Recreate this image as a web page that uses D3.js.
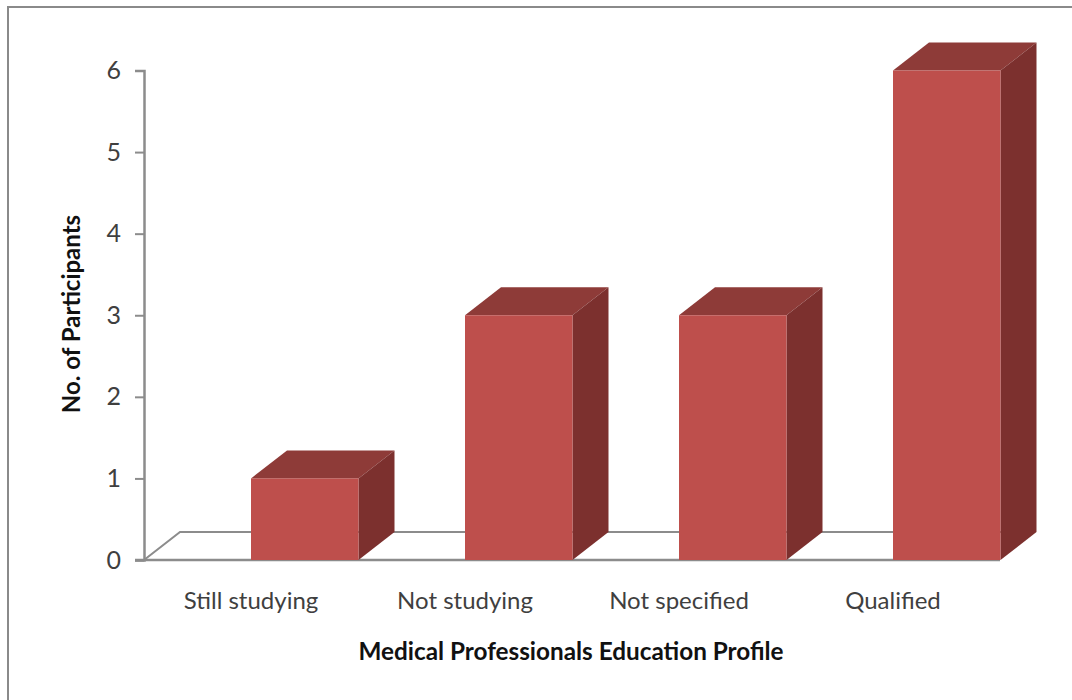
<!DOCTYPE html>
<html>
<head>
<meta charset="utf-8">
<script src="https://cdn.jsdelivr.net/npm/d3@7"></script>
<style>
  html, body { margin: 0; padding: 0; background: #fff; }
  svg { display: block; }
  text { font-family: Lato, "Open Sans", sans-serif; }
</style>
</head>
<body>
<script>
const categories = ["Still studying", "Not studying", "Not specified", "Qualified"];
const participants = [1, 3, 3, 6];
const tickValues = [0, 1, 2, 3, 4, 5, 6];
const xTitle = "Medical Professionals Education Profile";
const yTitle = "No. of Participants";

function main(){
    const width = 1072;
    const height = 700;
    const depthX = 36;   // oblique offset of the 3D walls
    const depthY = 28;
    const barWidth = 107.5;

    const svg = d3.select("body").append("svg")
        .attr("width", width)
        .attr("height", height);

    // outer chart frame, open on the right and bottom edges of the page
    svg.append("path")
        .attr("d", "M8,700V7H1072")
        .attr("fill", "none")
        .attr("stroke", "#8a8a8a")
        .attr("stroke-width", 2);

    const x = d3.scaleBand().domain(categories).range([144, 1000]);
    const y = d3.scaleLinear().domain([0, 6]).range([560, 70.5]);

    // floor of the 3D plot; the right edge is hidden behind the last bar
    svg.append("path")
        .attr("d", `M${x.range()[0]},${y(0)}l${depthX},${-depthY}H${x.range()[1] + depthX - 2}`)
        .attr("fill", "none")
        .attr("stroke", "#8c8c8c")
        .attr("stroke-width", 2);

    const yAxis = d3.axisLeft(y)
        .tickValues(tickValues)
        .tickSize(9)
        .tickPadding(14)
        .tickFormat(d3.format("d"));
    const yG = svg.append("g")
        .attr("transform", `translate(${x.range()[0]},0)`)
        .call(yAxis);
    yG.select(".domain").attr("stroke", "#8c8c8c").attr("stroke-width", 2.5);
    yG.selectAll(".tick line").attr("stroke", "#8c8c8c").attr("stroke-width", 2);
    yG.selectAll(".tick text")
        .attr("fill", "#3f3f3f")
        .style("font-size", "25px");

    const xAxis = d3.axisBottom(x).tickSize(0).tickPadding(32);
    const xG = svg.append("g")
        .attr("transform", `translate(0,${y(0)})`)
        .call(xAxis);
    xG.select(".domain")
        .attr("d", `M${x.range()[0] - 9},0H${x.range()[1]}`)
        .attr("stroke", "#8c8c8c")
        .attr("stroke-width", 2.5);
    xG.selectAll(".tick text")
        .attr("fill", "#3f3f3f")
        .style("font-size", "24px");

    // each bar sits from the middle of its band rightwards
    const barLeft = d => x(d.cat) + x.bandwidth() / 2;
    const data = categories.map((cat, i) => ({cat: cat, value: participants[i]}));

    const bars = svg.selectAll(".bar")
        .data(data)
        .enter().append("g")
        .attr("class", "bar");

    bars.append("path")
        .attr("fill", "#8e3b38")
        .attr("d", d => `M${barLeft(d)},${y(d.value)}l${depthX},${-depthY}h${barWidth}l${-depthX},${depthY}Z`);
    bars.append("path")
        .attr("fill", "#7c302e")
        .attr("d", d => `M${barLeft(d) + barWidth},${y(d.value)}l${depthX},${-depthY}V${y(0) - depthY}l${-depthX},${depthY}Z`);
    bars.append("rect")
        .attr("fill", "#be4f4c")
        .attr("x", barLeft)
        .attr("y", d => y(d.value))
        .attr("width", barWidth)
        .attr("height", d => y(0) - y(d.value));

    svg.append("text")
        .attr("x", 571)
        .attr("y", 660)
        .attr("text-anchor", "middle")
        .attr("font-weight", "bold")
        .attr("font-size", 24.3)
        .attr("fill", "#111")
        .text(xTitle);

    svg.append("text")
        .attr("transform", "translate(80,314) rotate(-90)")
        .attr("text-anchor", "middle")
        .attr("font-weight", "bold")
        .attr("font-size", 24)
        .attr("fill", "#111")
        .text(yTitle);
}
main();
</script>
</body>
</html>
